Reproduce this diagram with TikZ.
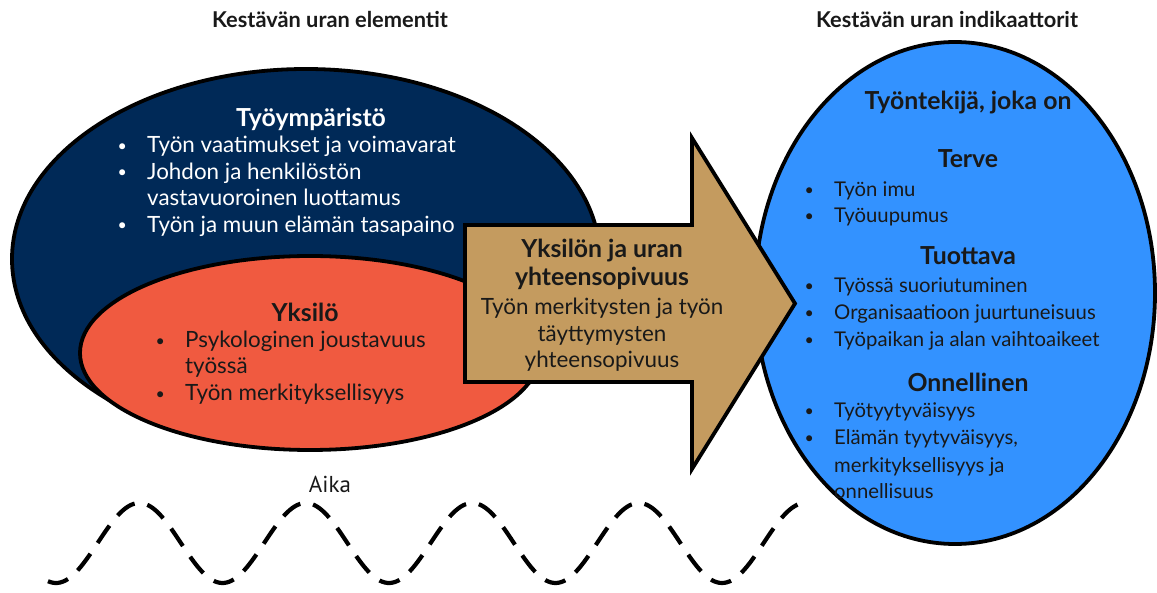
\documentclass[tikz,border=0pt]{standalone}
\usepackage{fontspec}
\setmainfont{Lato}
\newfontfamily\aikafont{PT Sans}
\definecolor{navy}{RGB}{0,41,87}
\definecolor{tomato}{RGB}{240,90,64}
\definecolor{tan}{RGB}{196,155,95}
\definecolor{skyblue}{RGB}{51,146,255}
\definecolor{ink}{RGB}{25,25,25}
\newcommand{\mybul}{\makebox[0pt][c]{\raisebox{1.8pt}{\fontsize{16}{16}\selectfont •}}\hspace{25pt}}
\begin{document}
\begin{tikzpicture}[x=1pt,y=-1pt,
  shape outline/.style={draw=black, line width=3.8pt, line join=miter},
  head/.style={anchor=base, inner sep=0pt, text=ink, font=\bfseries\fontsize{21.8}{26}\selectfont},
  ttl/.style={anchor=base, inner sep=0pt, font=\bfseries\fontsize{24.8}{29}\selectfont},
  body/.style={anchor=base west, inner sep=0pt, font=\fontsize{22.4}{26}\selectfont},
  rbody/.style={anchor=base west, inner sep=0pt, text=ink, font=\fontsize{20.3}{24}\selectfont},
  abody/.style={anchor=base, inner sep=0pt, text=ink, font=\fontsize{22.4}{26}\selectfont},
  rttl/.style={anchor=base, inner sep=0pt, text=ink, font=\bfseries\fontsize{24.8}{29}\selectfont},
  wave/.style={draw=black, line width=4.2pt, dash pattern=on 21pt off 13pt}
]
\useasboundingbox (0,0) rectangle (1157,593);
\fill[white] (0,0) rectangle (1157,593);

% headings
\node[head] (h1) at (330,28) {Kestävän uran elementit};
\node[head] (h2) at (947,28) {Kestävän uran indikaattorit};

% left ellipses
\draw[shape outline, fill=navy] (306,259) ellipse [x radius=294, y radius=190];
\draw[shape outline, fill=tomato] (310,353) ellipse [x radius=230, y radius=97];

% right ellipse
\draw[shape outline, fill=skyblue] (955,293) ellipse [x radius=200, y radius=251];

% arrow
\draw[shape outline, fill=tan] (465,225) -- (692,225) -- (692,138) -- (795,303.5)
  -- (692,469) -- (692,382) -- (465,382) -- cycle;

% Työympäristö
\node[ttl, text=white] (t1) at (311,127) {Työympäristö};
\node[body, text=white] (t1a) at (122,153) {\mybul Työn vaatimukset ja voimavarat};
\node[body, text=white] (t1b) at (122,179.5) {\mybul Johdon ja henkilöstön};
\node[body, text=white] (t1c) at (147,206) {vastavuoroinen luottamus};
\node[body, text=white] (t1d) at (122,232.5) {\mybul Työn ja muun elämän tasapaino};

% Yksilö
\node[ttl, text=ink] (t2) at (305,322) {Yksilö};
\node[body, text=ink] (t2a) at (160,348) {\mybul Psykologinen joustavuus};
\node[body, text=ink] (t2b) at (185,374) {työssä};
\node[body, text=ink] (t2c) at (160,401) {\mybul Työn merkityksellisyys};

% arrow text
\node[ttl, text=ink] (a1) at (602,258) {Yksilön ja uran};
\node[ttl, text=ink] (a2) at (602,286) {yhteensopivuus};
\node[abody] (a3) at (602,315) {Työn merkitysten ja työn};
\node[abody] (a4) at (602,341.5) {täyttymysten};
\node[abody] (a5) at (602,368) {yhteensopivuus};

% right text
\node[rttl] (r0) at (968,110) {Työntekijä, joka on};
\node[rttl] (r1) at (968,168) {Terve};
\node[rbody] (r1a) at (809,197) {\mybul Työn imu};
\node[rbody] (r1b) at (809,223) {\mybul Työuupumus};
\node[rttl] (r2) at (968,265) {Tuottava};
\node[rbody] (r2a) at (809,293) {\mybul Työssä suoriutuminen};
\node[rbody] (r2b) at (809,320) {\mybul Organisaatioon juurtuneisuus};
\node[rbody] (r2c) at (809,347) {\mybul Työpaikan ja alan vaihtoaikeet};
\node[rttl] (r3) at (968,392) {Onnellinen};
\node[rbody] (r3a) at (809,418) {\mybul Työtyytyväisyys};
\node[rbody] (r3b) at (809,445) {\mybul Elämän tyytyväisyys,};
\node[rbody] (r3c) at (834,472) {merkityksellisyys ja};
\node[rbody] (r3d) at (834,498) {onnellisuus};

% time
\node[anchor=base, inner sep=0pt, text=ink, font=\aikafont\fontsize{23}{27}\selectfont] (aika) at (330,493) {Aika};
\draw[wave] plot[domain=48:800, samples=300, smooth] (\x, {543+40*cos(2.16216*(\x-56))});
\end{tikzpicture}
\end{document}
